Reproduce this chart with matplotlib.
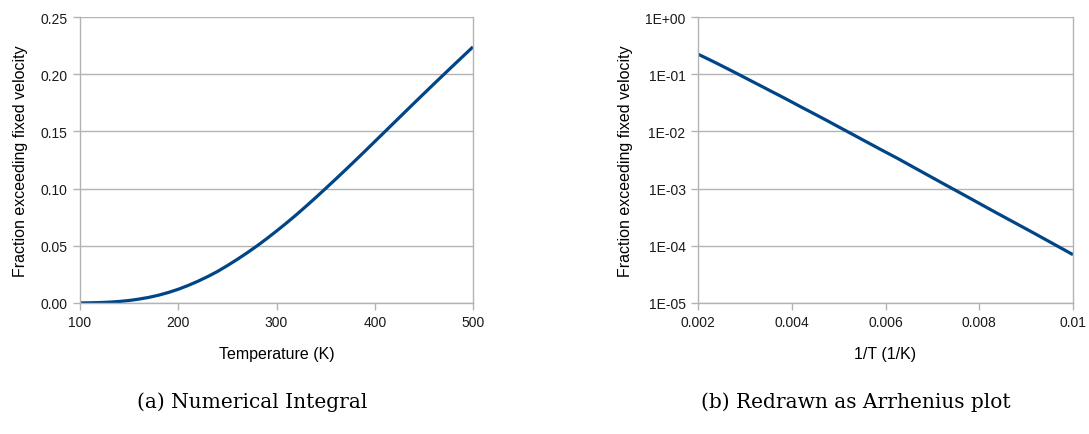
"""
Fraction of molecules faster than a fixed velocity vs temperature,
plotted directly and as an Arrhenius plot (log fraction vs 1/T).
"""
import math

import matplotlib
matplotlib.use("Agg")
import matplotlib.pyplot as plt
from matplotlib.ticker import FixedLocator, FuncFormatter, NullLocator

# --- data ---
TEMP_K = [100, 110, 120, 130, 140, 150, 160, 170, 180, 190, 200,
          210, 220, 230, 240, 250, 260, 270, 280, 290, 300,
          310, 320, 330, 340, 350, 360, 370, 380, 390, 400,
          410, 420, 430, 440, 450, 460, 470, 480, 490, 500]
FRACTION = [7.0e-5, 1.8e-4, 3.9e-4, 7.6e-4, 1.34e-3, 2.2e-3, 3.4e-3, 4.9e-3, 6.83e-3, 9.2e-3, 0.0120,
            0.0153, 0.0190, 0.0231, 0.0276, 0.0327, 0.0381, 0.0438, 0.0498, 0.0562, 0.0629,
            0.0698, 0.0770, 0.0845, 0.0922, 0.1001, 0.1081, 0.1162, 0.1244, 0.1327, 0.1411,
            0.1495, 0.1579, 0.1663, 0.1747, 0.1830, 0.1913, 0.1995, 0.2077, 0.2158, 0.2239]
INV_T = [1.0 / t for t in TEMP_K]

LINE = "#004586"
GRID = "#b3b3b3"
SANS = ["Liberation Sans", "DejaVu Sans"]
SERIF = ["DejaVu Serif"]

plt.rcParams["font.family"] = SANS
plt.rcParams["font.size"] = 10


def style_axes(ax):
    for side in ("left", "bottom", "right"):
        ax.spines[side].set_color(GRID)
        ax.spines[side].set_linewidth(1.0)
    ax.spines["top"].set_visible(False)
    ax.grid(axis="y", color=GRID, lw=1.0)
    ax.set_axisbelow(True)
    ax.tick_params(direction="out", length=5, width=1.0, color=GRID,
                   labelsize=10, labelcolor="#1a1a1a", pad=4)
    ax.tick_params(axis="y", right=False)


def sci_label(v, pos):
    exp = int(round(math.log10(v)))
    return f"1E{'+' if exp >= 0 else '-'}{abs(exp):02d}"


fig = plt.figure(figsize=(10.89, 4.35), dpi=100)

# (a) linear plot
ax1 = fig.add_axes([80 / 1089, 131 / 435, 393 / 1089, 286 / 435])
ax1.plot(TEMP_K, FRACTION, color=LINE, lw=2.3, solid_capstyle="butt")
ax1.set_xlim(100, 500)
ax1.set_ylim(0, 0.25)
ax1.set_xticks([100, 200, 300, 400, 500])
ax1.set_yticks([0, 0.05, 0.10, 0.15, 0.20, 0.25])
ax1.yaxis.set_major_formatter(FuncFormatter(lambda v, p: f"{v:.2f}"))
ax1.set_xlabel("Temperature (K)", fontsize=11.5, labelpad=12)
ax1.set_ylabel("Fraction exceeding fixed velocity", fontsize=11.5, labelpad=9)
style_axes(ax1)

# (b) Arrhenius plot
ax2 = fig.add_axes([698 / 1089, 131 / 435, 375 / 1089, 286 / 435])
ax2.plot(INV_T, FRACTION, color=LINE, lw=2.3, solid_capstyle="butt")
ax2.set_yscale("log")
ax2.set_xlim(0.002, 0.01)
ax2.set_ylim(1e-5, 1)
ax2.set_xticks([0.002, 0.004, 0.006, 0.008, 0.01])
ax2.xaxis.set_major_formatter(FuncFormatter(lambda v, p: f"{v:g}"))
ax2.yaxis.set_major_locator(FixedLocator([1e-5, 1e-4, 1e-3, 1e-2, 1e-1, 1]))
ax2.yaxis.set_minor_locator(NullLocator())
ax2.yaxis.set_major_formatter(FuncFormatter(sci_label))
ax2.set_xlabel("1/T (1/K)", fontsize=11.5, labelpad=12)
ax2.set_ylabel("Fraction exceeding fixed velocity", fontsize=11.5, labelpad=9)
style_axes(ax2)

# sub-captions
fig.text(252 / 1089, 1 - 402 / 435, "(a) Numerical Integral",
         family=SERIF, fontsize=14.5, ha="center", va="center")
fig.text(856 / 1089, 1 - 402 / 435, "(b) Redrawn as Arrhenius plot",
         family=SERIF, fontsize=14.5, ha="center", va="center")

fig.savefig("out.png", dpi=100, facecolor="white")
